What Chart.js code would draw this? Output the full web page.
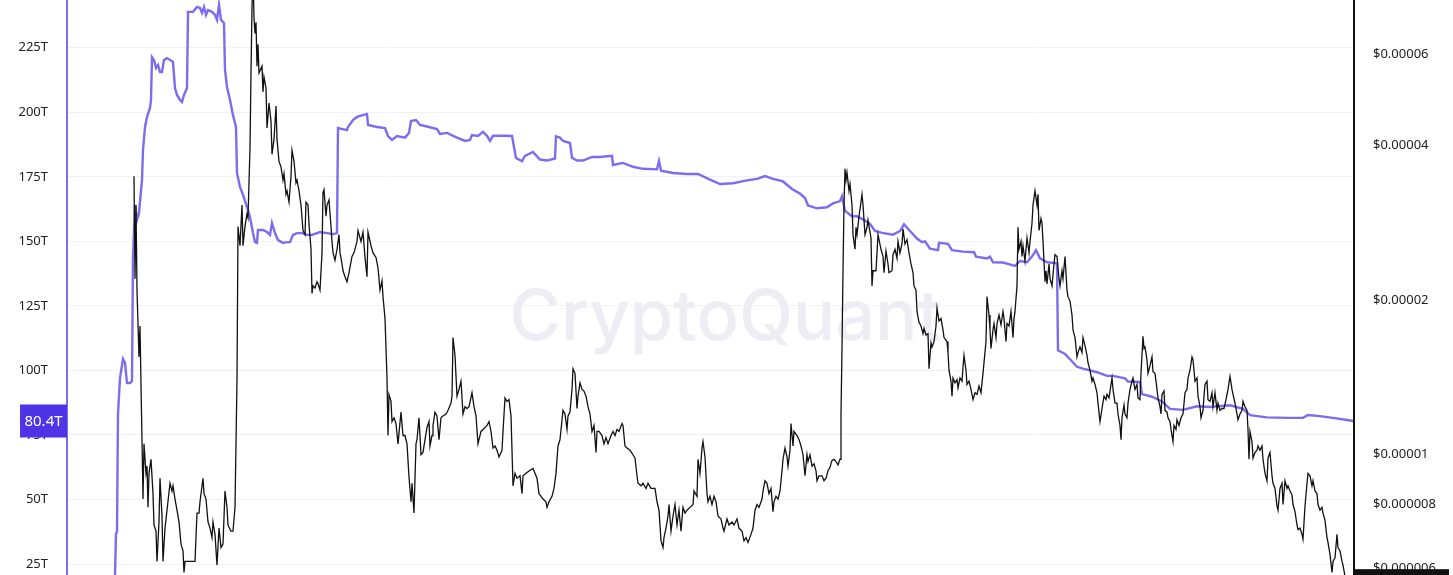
<!DOCTYPE html>
<html>
<head>
<meta charset="utf-8">
<title>SHIB price vs exchange reserve</title>
<script src="https://cdn.jsdelivr.net/npm/chart.js@4.4.1/dist/chart.umd.min.js"></script>
<style>
  html, body { margin: 0; padding: 0; background: #fff; overflow: hidden; }
  #wrap { width: 1453px; height: 575px; }
</style>
</head>
<body>
<div id="wrap"><canvas id="chart" width="1453" height="575"></canvas></div>
<script>
// Reserve (trillions of tokens)
const reserveDays = [46,47,48,49,50,52,55,57,59,62,64,65,67,69,71,74,75,77,79,82,83,84,86,88,90,92,94,96,99,102,105,107,109,112,114,116,119,120,121,125,129,132,134,136,138,140,144,147,149,151,153,156,157,159,162,165,168,169,172,175,179,182,185,187,189,190,195,199,202,204,207,210,215,219,222,225,229,234,239,244,249,252,259,265,269,270,279,280,285,289,292,299,300,309,317,320,324,329,337,341,343,348,352,359,369,372,379,389,397,402,404,410,415,419,422,425,435,444,448,454,457,465,472,479,487,488,492,495,502,504,509,515,524,532,544,545,555,565,575,589,591,593,605,619,630,642,652,665,679,689,697,705,715,724,732,737,740,749,759,765,772,774,777,784,789,795,802,807,814,825,832,836,842,849,854,857,862,870,871,880,884,895,906,908,919,922,925,935,947,952,959,964,968,972,979,989,990,997,1002,1009,1015,1029,1039,1045,1057,1060,1072,1074,1084,1094,1102,1115,1129,1142,1162,1175,1182,1199,1219,1235,1240,1252,1265,1279,1285];
const reserveT = [5,20.7,36.8,37.4,83.1,97.1,104.4,102.9,95.1,95.1,95.9,143.9,164.1,158.3,161.0,173.8,185.4,194.3,198.2,201.7,204.8,221.4,220.3,217.2,218.3,215.6,215.6,220.3,221.0,220.3,219.5,209.4,206.7,204.8,204.0,206.7,209.4,238.9,238.9,238.9,240.8,240.4,238.5,240.8,237.7,239.6,238.9,237.7,235.8,241.6,235.8,234.6,216.4,209.8,204.8,198.9,194.3,176.5,171.1,168.0,163.3,159.4,153.2,149.7,149.4,154.4,154.4,153.6,152.5,157.1,153.2,150.5,149.4,149.7,149.7,152.5,153.2,153.2,152.5,152.5,153.2,153.6,153.2,152.8,153.2,193.9,193.1,194.3,197.0,198.2,198.6,199.3,195.1,194.3,193.9,190.8,189.3,190.8,190.2,192.0,196.6,197.0,195.1,194.5,193.5,191.6,192.0,190.2,188.9,189.3,191.2,190.8,192.4,190.9,188.9,190.9,190.9,190.8,182.3,181.1,183.1,184.6,181.7,181.3,182.1,190.7,190.2,188.9,188.1,182.4,181.3,181.3,182.7,182.7,183.1,179.6,180.4,178.9,178.1,177.9,181.1,177.4,176.5,176.1,176.1,173.9,172.2,172.5,173.6,174.2,175.3,174.2,173.2,170.3,168.5,166.8,163.9,162.8,163.2,164.7,165.6,167.5,161.8,159.7,159.7,158.5,156.8,154.0,153.3,152.6,154.0,156.6,154.0,151.1,149.7,150.0,147.2,146.6,149.4,149.0,146.6,146.0,145.8,144.1,143.4,144.1,141.9,141.8,140.5,142.4,141.9,144.1,146.6,143.4,141.9,141.5,107.8,106.4,104.3,101.4,100.7,99.3,97.9,97.9,96.9,95.7,95.5,90.8,89.8,88.0,85.1,84.7,86.1,85.8,86.5,85.1,82.7,81.8,81.6,81.6,82.7,82.3,81.6,80.8,80.4];

// Price in millionths of a dollar (12.3 = $0.0000123)
const priceDays = [66,67,68,69,70,71,72,73,74,75,76,78,79,80,81,83,85,86,88,89,91,92,94,95,97,99,102,104,105,107,109,111,113,115,116,117,120,124,127,129,131,132,135,136,138,140,142,144,145,147,149,151,153,155,157,159,160,163,165,167,169,170,172,174,175,177,179,180,182,183,184,185,186,187,188,189,190,191,194,195,196,198,199,201,203,204,206,208,209,211,213,215,216,218,219,221,223,224,226,228,229,231,233,234,235,237,238,240,241,243,244,245,247,249,250,252,254,255,256,258,259,261,263,264,265,267,269,271,272,274,275,277,279,281,284,286,289,290,293,295,297,299,300,303,305,308,310,312,314,315,317,318,319,320,321,323,324,326,328,330,333,335,337,339,341,343,344,346,348,349,351,353,355,357,359,361,362,364,365,367,369,371,373,375,378,380,383,384,385,387,389,391,393,395,397,399,401,404,406,408,410,413,415,419,421,423,425,427,429,431,434,435,437,439,441,443,444,445,447,449,452,454,455,458,461,465,467,469,471,473,475,478,479,481,484,486,488,490,492,495,497,499,500,502,504,505,507,509,510,512,514,516,518,520,522,524,526,528,529,531,534,536,538,540,543,545,547,549,551,554,555,557,559,562,565,567,569,570,573,575,578,580,583,585,587,589,591,593,595,596,598,600,601,603,605,607,609,611,613,615,617,619,622,625,626,629,630,632,634,635,637,639,640,642,644,646,648,650,653,655,656,659,661,664,666,669,671,674,676,678,680,683,685,687,689,691,694,695,697,699,701,703,705,706,708,710,712,714,715,717,719,720,722,723,725,726,729,731,733,735,737,739,740,742,744,746,748,749,751,754,756,758,760,762,764,766,768,770,772,773,774,775,776,777,778,779,781,782,784,785,787,788,789,791,794,795,797,799,800,803,804,805,808,810,813,815,816,818,820,821,824,825,827,829,830,832,834,835,837,839,841,843,845,846,848,849,851,853,855,856,858,860,861,863,864,866,868,869,871,873,875,876,879,880,881,883,884,885,887,889,890,892,894,895,896,898,899,901,903,905,907,909,911,913,915,916,918,919,921,922,923,925,926,928,929,931,933,935,936,938,939,941,943,945,946,947,949,950,951,953,954,955,957,958,959,961,962,964,965,966,967,969,970,971,973,974,975,977,978,979,981,982,984,986,987,989,991,992,994,995,997,999,1000,1002,1004,1005,1007,1009,1010,1012,1014,1015,1017,1019,1020,1022,1024,1025,1027,1029,1030,1032,1034,1036,1038,1039,1041,1044,1045,1047,1049,1050,1052,1053,1054,1056,1057,1059,1060,1062,1064,1065,1067,1069,1070,1072,1073,1075,1076,1077,1079,1080,1082,1084,1085,1087,1089,1090,1092,1093,1094,1096,1097,1099,1100,1102,1103,1105,1106,1108,1109,1111,1113,1115,1117,1119,1120,1122,1124,1125,1127,1129,1130,1132,1133,1135,1136,1137,1139,1140,1142,1144,1145,1147,1149,1150,1152,1154,1156,1158,1160,1162,1164,1165,1167,1169,1170,1172,1174,1175,1177,1179,1180,1181,1182,1184,1185,1187,1189,1190,1192,1194,1195,1197,1199,1200,1202,1204,1205,1207,1209,1210,1212,1214,1215,1217,1219,1220,1222,1224,1225,1227,1229,1230,1232,1234,1235,1237,1239,1240,1242,1244,1245,1247,1249,1250,1252,1254,1255,1257,1259,1260,1262,1264,1265,1267,1269,1270,1272,1274,1275,1277,1279];
const priceMicro = [34.8,22.0,30.6,20.9,18.0,15.5,17.8,13.7,10.7,8.2,10.5,9.2,9.5,7.9,9.2,9.8,8.4,7.3,7.1,6.2,7.4,9.0,7.6,6.2,7.2,7.8,8.8,8.5,8.7,8.2,7.8,7.4,6.7,6.5,5.9,6.2,6.2,6.2,6.2,7.7,7.7,8.1,9.0,8.4,8.2,7.4,7.2,6.9,7.4,7.0,6.1,7.2,6.6,6.7,8.5,7.9,7.3,7.1,7.1,7.9,14.0,27.8,25.5,30.6,25.5,27.8,29.4,28.9,39.6,55.3,74.3,86,70.7,66.0,69.4,57.0,62.9,55.3,57.0,50.8,54.3,51.7,43.2,48.3,44.6,38.4,41.1,47.7,41.1,37.2,36.3,34.2,35.2,32.1,32.6,31.0,34.8,39.1,37.2,33.8,34.2,32.6,30.6,28.9,27.3,26.8,31.0,30.6,28.1,25.1,20.6,21.3,21.1,21.7,21.5,20.9,24.7,32.4,32.8,29.1,30.6,31.3,27.8,26.0,24.7,23.9,25.1,26.8,24.7,23.5,22.8,22.2,21.7,22.6,24.3,24.7,26.0,27.3,26.0,27.1,24.2,22.2,27.1,25.5,24.7,24.2,23.1,20.9,21.8,20.3,18.4,16.1,14.1,10.9,13.1,12.7,11.6,11.8,11.5,10.5,12.1,10.9,10.9,10.5,9.05,8.1,8.8,7.7,10.5,10.7,11.8,10.0,10.1,10.7,11.3,11.6,10.4,10.9,11.4,12.1,11.9,10.7,11.8,11.9,12.0,12.2,12.6,13.0,16.9,15.6,13.0,13.4,13.9,12.0,12.4,12.3,12.4,13.2,12.4,11.9,10.5,11.1,11.2,11.4,11.6,11.1,10.3,10.4,10.2,9.9,10.2,11.1,12.9,12.7,12.8,11.9,10.2,8.7,9.2,9.0,9.1,8.4,9.1,9.2,9.3,9.4,9.2,9.0,8.4,8.3,8.2,8.1,7.9,8.1,8.3,8.6,9.2,10.4,10.7,12.2,12.0,11.2,11.9,12.1,13.4,14.7,14.4,12.3,13.0,13.8,13.4,13.3,13.0,12.4,12.0,11.1,11.4,10.1,11.1,11.1,10.9,10.5,10.8,10.5,10.9,11.1,10.9,11.2,11.1,11.5,11.4,10.4,10.3,10.2,10.0,9.85,9.1,8.8,8.7,8.8,8.6,8.8,8.6,8.6,8.6,8.1,7.8,6.8,6.6,6.9,7.2,7.6,8.0,7.1,7.6,8.0,7.3,7.8,7.1,7.9,7.7,7.8,7.9,8.0,8.5,8.3,9.8,9.2,10.3,10.6,9.9,8.4,8.1,8.3,8.0,8.3,8.1,7.6,7.5,7.2,7.1,7.5,7.3,7.4,7.3,7.5,7.2,7.1,6.8,6.9,6.75,7.0,7.2,7.8,8.0,7.9,8.2,8.5,8.9,8.8,8.4,8.6,7.75,8.1,8.3,8.2,8.5,9.3,9.8,10.3,9.9,9.5,10.2,11.5,10.4,11.1,10.9,10.7,10.4,10.0,9.1,10.0,9.7,10.0,9.5,9.6,9.3,8.9,9.1,9.1,8.9,9.0,9.3,9.45,9.75,9.8,9.7,9.55,9.8,12.0,16.1,22.8,30.6,36.0,34.2,35.4,32.6,33.6,30.6,26.8,25.1,27.7,26.8,29.1,32.1,30.6,26.8,27.7,28.6,26.4,21.3,22.8,22.8,26.8,25.1,24.3,22.6,24.9,23.5,22.6,22.8,24.5,25.1,24.1,26.0,24.7,25.7,27.5,25.7,26.2,24.7,23.5,22.6,21.3,20.9,19.0,18.1,17.8,17.2,17.6,17.1,17.2,14.7,16.5,16.2,16.6,17.8,19.3,18.2,18.4,17.5,16.9,16.6,15.8,14.6,13.9,13.0,14.1,13.8,14.0,13.5,14.1,13.9,14.8,15.6,14.6,13.7,13.9,13.4,12.8,13.2,13.1,13.6,13.2,14.4,15.1,16.6,20.3,18.7,17.5,16.1,17.5,18.0,16.9,18.0,18.7,17.9,19.0,18.4,16.6,18.0,17.8,19.0,16.9,18.4,19.0,21.3,27.7,25.1,26.0,24.3,25.5,23.8,25.1,26.4,24.7,26.0,28.2,30.6,31.6,32.6,30.6,32.1,27.3,28.8,28.2,26.0,21.7,22.8,21.5,23.5,22.0,21.3,23.5,24.5,24.3,22.0,21.3,22.8,22.0,24.3,20.9,20.3,19.9,18.7,17.5,16.9,15.5,15.8,16.2,15.8,16.9,16.3,15.6,15.1,14.6,13.9,14.1,13.7,13.2,12.6,11.6,12.3,13.0,12.8,13.1,12.9,14.1,13.4,12.6,12.6,12.0,11.4,10.7,11.8,12.5,12.0,11.8,12.6,13.4,13.9,14.1,13.4,13.7,12.9,12.8,14.4,17.0,16.1,16.2,15.3,14.4,14.9,15.5,14.5,14.4,13.4,12.9,12.4,12.0,13.1,13.3,12.2,12.1,11.8,11.6,11.2,10.6,11.4,11.2,11.7,11.4,11.8,12.0,13.2,13.4,14.1,14.6,15.5,15.3,13.9,14.1,13.0,12.4,11.8,12.2,13.0,13.7,13.9,12.8,12.7,13.2,12.4,13.2,12.2,12.6,12.2,12.3,12.3,12.8,13.4,14.2,13.4,13.1,12.6,12.0,11.7,12.0,12.2,12.7,12.4,12.2,11.2,9.8,11.1,10.6,9.85,10.1,10.2,10.4,10.2,10.4,9.8,9.2,8.9,9.85,10.1,9.1,8.8,8.6,7.95,7.8,8.6,8.8,8.0,8.9,8.6,8.7,8.5,8.35,8.0,7.75,7.3,7.15,7.2,7.0,6.85,7.95,8.8,9.2,9.1,8.7,8.9,8.5,8.4,8.0,7.8,7.9,7.7,7.45,6.9,6.75,6.4,5.9,6.2,6.3,7.0,6.6,6.5,6.2,6.1,5.8,5.55];

const reserveTicks = [25, 50, 75, 100, 125, 150, 175, 200, 225];
const priceTicks = [6, 8, 10, 20, 40, 60];

const purple = '#7b6cf0';
const tickFont = { family: 'Noto Sans', size: 13 };

function fmtPrice(v) {
  return '$' + (v / 1e6).toFixed(6 - Math.floor(Math.log10(v)));
}

// watermark + last value boxes
const overlay = {
  id: 'overlay',
  beforeDatasetsDraw(chart) {
    const { ctx, chartArea } = chart;
    ctx.save();
    ctx.font = '500 80px Inter';
    const w = ctx.measureText('CryptoQuant').width;
    ctx.font = '500 ' + (80 * 432 / w) + 'px Inter';
    ctx.fillStyle = '#eeedf4';
    ctx.textAlign = 'center';
    ctx.textBaseline = 'alphabetic';
    ctx.fillText('CryptoQuant', (chartArea.left + chartArea.right) / 2 + 15, 340);
    ctx.restore();
  },
  afterDraw(chart) {
    const { ctx, scales } = chart;
    ctx.save();
    ctx.font = '15px "Noto Sans"';
    ctx.textAlign = 'center';
    ctx.textBaseline = 'middle';

    const lastT = reserveT[reserveT.length - 1];
    const yl = scales.yL.getPixelForValue(lastT);
    ctx.fillStyle = '#4f33e6';
    ctx.fillRect(20, yl - 16.5, scales.yL.right - 20, 33);
    ctx.fillStyle = '#fff';
    ctx.fillText(lastT.toFixed(1) + 'T', (20 + scales.yL.right) / 2, yl + 1);

    const lastP = priceMicro[priceMicro.length - 1];
    const yr = scales.yR.getPixelForValue(lastP);
    ctx.fillStyle = '#111';
    ctx.fillRect(scales.yR.left, yr - 17, 95, 34);
    ctx.fillStyle = '#fff';
    ctx.fillText(fmtPrice(lastP), scales.yR.left + 47, yr + 1);
    ctx.restore();
  }
};

new Chart(document.getElementById('chart'), {
  type: 'line',
  data: {
    datasets: [
      {
        label: 'Price',
        data: priceDays.map((d, i) => ({ x: d, y: priceMicro[i] })),
        yAxisID: 'yR',
        borderColor: '#111',
        borderWidth: 1.3,
        pointRadius: 0,
        tension: 0
      },
      {
        label: 'Exchange Reserve',
        data: reserveDays.map((d, i) => ({ x: d, y: reserveT[i] })),
        yAxisID: 'yL',
        borderColor: purple,
        borderWidth: 2.4,
        pointRadius: 0,
        tension: 0
      }
    ]
  },
  options: {
    responsive: false,
    devicePixelRatio: 1,
    animation: false,
    layout: { padding: 0 },
    plugins: { legend: { display: false }, tooltip: { enabled: false } },
    scales: {
      x: { type: 'linear', min: -1, max: 1286, display: false },
      yL: {
        position: 'left',
        min: 20.74,
        max: 243.5,
        afterBuildTicks: (axis) => { axis.ticks = reserveTicks.map(v => ({ value: v })); },
        afterFit: (axis) => { axis.width = 67; axis.paddingTop = 0; axis.paddingBottom = 0; },
        ticks: { padding: 19, color: '#222', font: tickFont, callback: v => v + 'T' },
        grid: { color: '#f2f2f2', drawTicks: false },
        border: { display: true, color: purple, width: 2 }
      },
      yR: {
        position: 'right',
        type: 'logarithmic',
        min: 5.835,
        max: 76.66,
        afterBuildTicks: (axis) => { axis.ticks = priceTicks.map(v => ({ value: v })); },
        afterFit: (axis) => { axis.width = 99; axis.paddingTop = 0; axis.paddingBottom = 0; },
        ticks: { padding: 19, color: '#222', font: tickFont, callback: v => fmtPrice(v) },
        grid: { drawOnChartArea: false, drawTicks: false },
        border: { display: true, color: '#111', width: 2 }
      }
    }
  },
  plugins: [overlay]
});
</script>
</body>
</html>
